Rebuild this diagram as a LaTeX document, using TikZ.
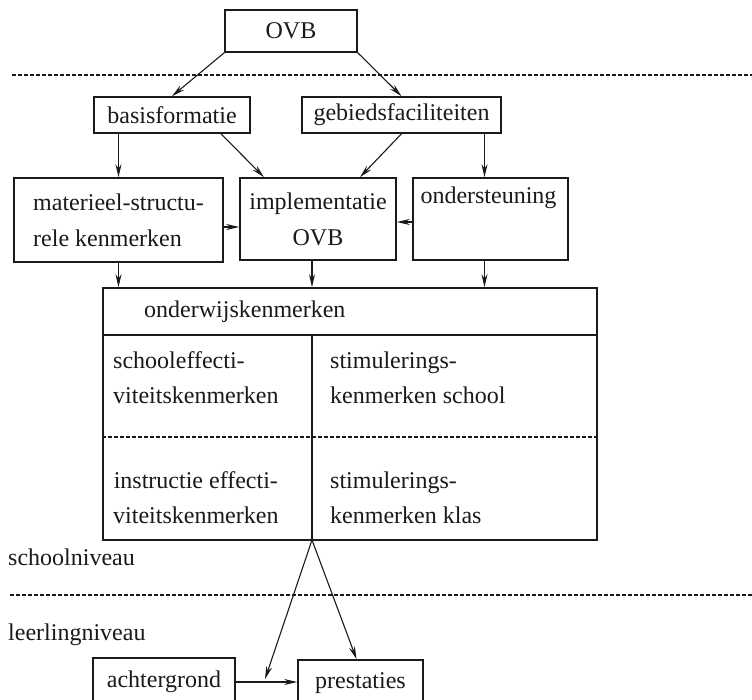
\documentclass[tikz,border=0pt]{standalone}
\usepackage{fontspec}
\setmainfont{Liberation Serif}
\usetikzlibrary{arrows.meta,positioning,calc}
\definecolor{ink}{HTML}{1A1A1A}
\tikzset{
  box/.style={draw=ink, line width=1.6pt, inner sep=4pt, text=ink,
              font=\fontsize{24}{36}\selectfont},
  arrow/.style={-{Stealth[length=13pt,width=6pt]}, line width=1.1pt, draw=ink},
  divider/.style={draw=ink, line width=1.2pt, dash pattern=on 4pt off 2pt},
  cell/.style={anchor=west, align=left, inner sep=0pt, text=ink,
               font=\fontsize{24}{35}\selectfont},
  level/.style={anchor=west, inner sep=0pt, text=ink,
                font=\fontsize{24}{35}\selectfont}
}

\begin{document}
\begin{tikzpicture}[x=1pt,y=-1pt,>=Latex]
  \clip (0,0) rectangle (752,700);
  \fill[white] (0,0) rectangle (752,700);

  % top levels
  \node[box,minimum width=132,minimum height=42] (ovb) at (291,31) {OVB};
  \draw[divider] (12,75) -- (752,75);
  \node[box,minimum width=156,minimum height=36] (basis) at (172,115) {basisformatie};
  \node[box,minimum width=199,minimum height=36] (gebied) at (401.5,115) {gebiedsfaciliteiten};
  \node[box,minimum width=209,minimum height=84,align=left] (materieel) at (118.5,220)
    {materieel-structu-\\rele kenmerken};
  \node[box,minimum width=156,minimum height=82,align=center] (impl) at (318,219)
    {implementatie\\OVB};
  \node[box,minimum width=155,minimum height=82,align=left,text width=140] (steun) at (490.5,219)
    {ondersteuning\\\strut};

  \draw[arrow] (ovb.south west) -- (basis.north);
  \draw[arrow] (ovb.south east) -- (gebied.north);
  \draw[arrow] (basis.south -| materieel.north) -- (materieel.north);
  \draw[arrow] ([xshift=49pt]basis.south) -- ([xshift=-54pt]impl.north);
  \draw[arrow] (gebied.south) -- ([xshift=42pt]impl.north);
  \draw[arrow] ([xshift=-6pt]steun.north |- gebied.south) -- ([xshift=-6pt]steun.north);
  \draw[arrow] ([yshift=-7pt]materieel.east) -- ([yshift=-7pt]materieel.east -| impl.west);
  \draw[arrow] ([yshift=-3pt]steun.west) -- ([yshift=-3pt]steun.west -| impl.east);

  % onderwijskenmerken
  \node[box,minimum width=494,minimum height=252] (ondw) at (350,414) {};
  \node[level] (title) at (144,312) {onderwijskenmerken};
  \draw[draw=ink,line width=1.4pt] (ondw.west |- 0,335) -- (ondw.east |- 0,335);
  \coordinate (split) at (312,540);
  \draw[draw=ink,line width=1.4pt] (split |- 0,335) -- (split);
  \draw[divider] (ondw.west |- 0,437) -- (ondw.east |- 0,437);
  \node[cell] (schooleff) at (113,378) {schooleffecti-\\viteitskenmerken};
  \node[cell] (stimschool) at (330,378) {stimulerings-\\kenmerken school};
  \node[cell,align=center] (instreff) at (113,498) {instructie effecti-\\viteitskenmerken};
  \node[cell] (stimklas) at (330,498) {stimulerings-\\kenmerken klas};

  \draw[arrow] (materieel.south) -- (materieel.south |- ondw.north);
  \draw[arrow] ([xshift=-6pt]impl.south) -- ([xshift=-6pt]impl.south |- ondw.north);
  \draw[arrow] ([xshift=-6pt]steun.south) -- ([xshift=-6pt]steun.south |- ondw.north);

  % school / leerling
  \node[level] (schoolniv) at (8,557) {schoolniveau};
  \draw[divider] (10,595) -- (752,595);
  \node[level] (leerlingniv) at (8,635) {leerlingniveau};

  \node[box,minimum width=142,minimum height=48] (achter) at (164,682) {achtergrond};
  \node[box,minimum width=125,minimum height=46] (prest) at (360.5,683) {prestaties};
  \draw[arrow] (achter.east) -- coordinate[pos=0.46] (mid) (achter.east -| prest.west);
  \draw[arrow,shorten >=3pt] (split) -- (mid);
  \draw[arrow] (split) -- ([xshift=-4pt]prest.north);
\end{tikzpicture}
\end{document}
